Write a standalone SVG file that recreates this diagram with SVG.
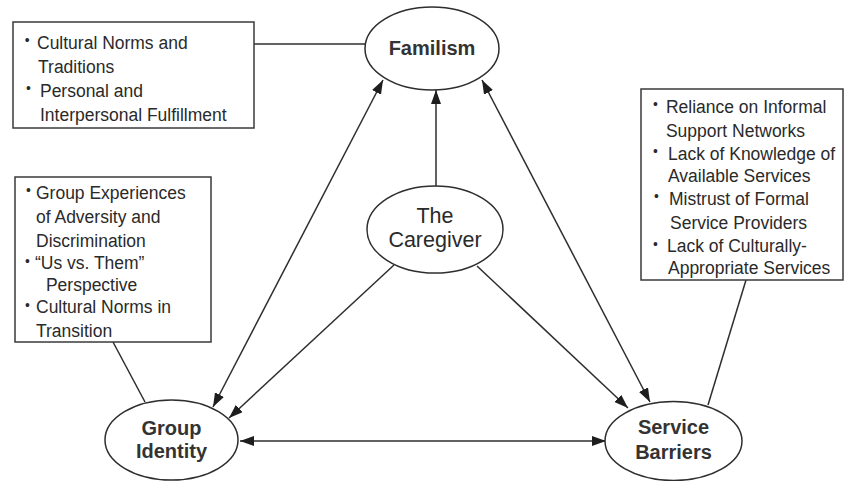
<svg xmlns="http://www.w3.org/2000/svg" width="851" height="481" viewBox="0 0 851 481">
<style>
.box{fill:#fff;stroke:#3a3a3a;stroke-width:1.5}
.ell{fill:#fff;stroke:#2e2e2e;stroke-width:1.5}
.t{font-family:"Liberation Sans",Arial,sans-serif;font-size:19px;fill:#2a2a2a}
.b{font-family:"Liberation Sans",Arial,sans-serif;font-size:15px;fill:#2a2a2a}
.h{font-family:"Liberation Sans",Arial,sans-serif;font-size:20px;font-weight:bold;fill:#333;text-anchor:middle}
.c{font-family:"Liberation Sans",Arial,sans-serif;font-size:21.5px;fill:#2a2a2a;text-anchor:middle}
.ln{stroke:#2e2e2e;stroke-width:1.5;fill:none}
.ar{stroke:#2e2e2e;stroke-width:1.5;fill:none;marker-end:url(#ah)}
.ar2{stroke:#2e2e2e;stroke-width:1.5;fill:none;marker-end:url(#ah);marker-start:url(#ah)}
</style>
<defs>
<marker id="ah" markerUnits="userSpaceOnUse" markerWidth="15" markerHeight="11" refX="14" refY="5" orient="auto-start-reverse">
<path d="M0,0 L14,5 L0,10 z" fill="#1e1e1e"/>
</marker>
</defs>
<rect width="851" height="481" fill="#fff"/>
<g id="connectors">
<line class="ln" x1="254" y1="44" x2="365" y2="44"/>
<line class="ln" x1="113" y1="342" x2="145" y2="402"/>
<line class="ln" x1="746" y1="280" x2="708" y2="405"/>
<line class="ar" x1="436" y1="186" x2="436" y2="90"/>
<line class="ar2" x1="383" y1="80" x2="213" y2="407"/>
<line class="ar2" x1="482" y1="80" x2="650" y2="402"/>
<line class="ar" x1="394" y1="265" x2="229" y2="418"/>
<line class="ar" x1="477" y1="266" x2="628" y2="408"/>
<line class="ar2" x1="240" y1="441" x2="606" y2="441"/>
</g>
<g id="familism-notes">
<rect class="box" x="13" y="22" width="241" height="106"/>
<g transform="scale(0.921,1)">
<text class="b" x="27" y="45">•</text>
<text class="t" x="40.2" y="49">Cultural Norms and</text>
<text class="t" x="41.3" y="73">Traditions</text>
<text class="b" x="28.2" y="93">•</text>
<text class="t" x="43.4" y="97">Personal and</text>
<text class="t" x="43.4" y="121">Interpersonal Fulfillment</text>
</g>
</g>
<g id="group-notes">
<rect class="box" x="15" y="177" width="196" height="165"/>
<g transform="scale(0.921,1)">
<text class="b" x="28.2" y="195">•</text>
<text class="t" x="39.1" y="199">Group Experiences</text>
<text class="t" x="39.1" y="223">of Adversity and</text>
<text class="t" x="39.1" y="247">Discrimination</text>
<text class="b" x="27.1" y="266">•</text>
<text class="t" x="38" y="269">“Us vs. Them”</text>
<text class="t" x="49.9" y="291">Perspective</text>
<text class="b" x="27.1" y="310">•</text>
<text class="t" x="39.1" y="313">Cultural Norms in</text>
<text class="t" x="39.1" y="337">Transition</text>
</g>
</g>
<g id="barrier-notes">
<rect class="box" x="641" y="89" width="202" height="191"/>
<g transform="scale(0.921,1)">
<text class="b" x="709" y="109">•</text>
<text class="t" x="723.1" y="113">Reliance on Informal</text>
<text class="t" x="723.1" y="137">Support Networks</text>
<text class="b" x="709" y="156">•</text>
<text class="t" x="725.3" y="160">Lack of Knowledge of</text>
<text class="t" x="725.3" y="182">Available Services</text>
<text class="b" x="710.1" y="201">•</text>
<text class="t" x="726.4" y="205">Mistrust of Formal</text>
<text class="t" x="727.5" y="229">Service Providers</text>
<text class="b" x="709" y="249">•</text>
<text class="t" x="724.2" y="252">Lack of Culturally-</text>
<text class="t" x="725.3" y="274">Appropriate Services</text>
</g>
</g>
<g id="familism">
<ellipse class="ell" cx="432" cy="48.5" rx="67" ry="41.5"/>
<text class="h" x="432" y="55">Familism</text>
</g>
<g id="caregiver">
<ellipse class="ell" cx="435" cy="229.5" rx="68" ry="43.5"/>
<text class="c" x="435" y="223">The</text>
<text class="c" x="435" y="247">Caregiver</text>
</g>
<g id="group-identity">
<ellipse class="ell" cx="171.5" cy="440" rx="66.5" ry="40"/>
<text class="h" x="171.5" y="435">Group</text>
<text class="h" x="171.5" y="458">Identity</text>
</g>
<g id="service-barriers">
<ellipse class="ell" cx="673.5" cy="441" rx="68.5" ry="39.5"/>
<text class="h" x="673.5" y="434">Service</text>
<text class="h" x="673.5" y="459">Barriers</text>
</g>
</svg>
